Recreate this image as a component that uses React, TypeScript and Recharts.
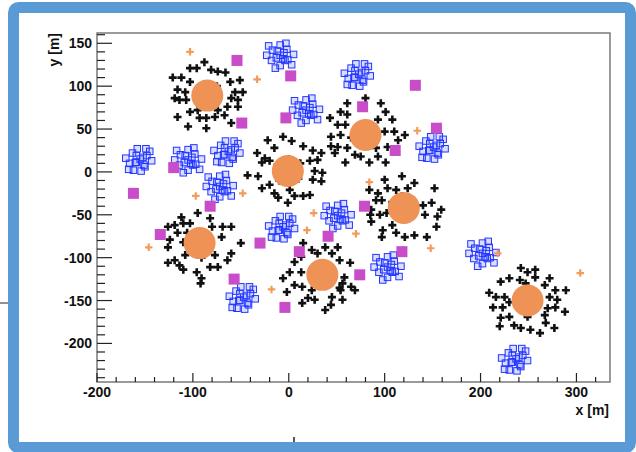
import React from "react";
import { ScatterChart, Scatter, XAxis, YAxis, ReferenceArea } from "recharts";

// ---------- data (metres) ----------
const X_TICKS = [-200, -180, -160, -140, -120, -100, -80, -60, -40, -20, 0, 20, 40, 60, 80, 100, 120, 140, 160, 180, 200, 220, 240, 260, 280, 300, 320];
const Y_TICKS = [-240, -230, -220, -210, -200, -190, -180, -170, -160, -150, -140, -130, -120, -110, -100, -90, -80, -70, -60, -50, -40, -30, -20, -10, 0, 10, 20, 30, 40, 50, 60, 70, 80, 90, 100, 110, 120, 130, 140, 150, 160];

const CLUSTER_CENTERS: [number, number][] = [
  [-85, 89], [80, 43], [-1, 1], [120, -42], [-93, -83], [35, -120], [249, -150],
];

const BLACK_1: [number, number][] = [[-88,128],[-96,121],[-103,121],[-81,119],[-74,117],[-66,116],[-121,110],[-112,110],[-103,105],[-51,107],[-61,105],[-116,96],[-108,93],[-56,93],[-48,93],[-119,86],[-114,84],[-107,84],[-60,86],[-53,84],[-64,76],[-53,76],[-116,64],[-103,70],[-95,72],[-74,72],[-67,66],[-93,63],[-86,63],[-77,64],[-105,53],[-86,51],[-60,57],[-95,95],[-75,100],[-90,80],[-78,82]];
const BLACK_2: [number, number][] = [[80,86],[61,80],[96,80],[101,70],[54,70],[61,67],[43,63],[51,55],[59,55],[93,61],[108,61],[44,41],[54,43],[100,47],[110,47],[121,43],[114,37],[51,29],[61,28],[69,20],[75,18],[84,11],[93,18],[101,11],[59,11],[91,28],[103,29],[70,50],[88,48],[75,35],[90,38],[65,40],[48,22],[44,30]];
const BLACK_3: [number, number][] = [[-22,37],[-6,41],[3,36],[15,30],[-15,28],[-33,22],[-25,16],[25,25],[34,22],[-28,11],[-20,13],[22,13],[30,14],[-43,-4],[-32,-5],[27,1],[35,-1],[25,-9],[34,-11],[-28,-19],[-20,-15],[-15,-25],[-11,-30],[1,-21],[6,-28],[15,-28],[22,-27],[-1,-36],[-12,8],[12,10],[-10,-10],[10,-8],[0,15]];
const BLACK_4: [number, number][] = [[100,-9],[118,-5],[131,-13],[152,-19],[84,-21],[93,-25],[103,-19],[112,-21],[124,-19],[97,-33],[86,-44],[95,-50],[86,-58],[102,-48],[140,-39],[149,-36],[159,-44],[142,-50],[154,-64],[98,-68],[97,-76],[108,-62],[112,-71],[121,-76],[131,-74],[144,-76],[155,-52],[91,-33],[85,-50],[108,-35],[127,-36],[110,-50],[128,-50],[118,-28]];
const BLACK_5: [number, number][] = [[-112,-53],[-95,-48],[-82,-54],[-119,-62],[-110,-60],[-103,-60],[-126,-64],[-116,-71],[-106,-71],[-124,-79],[-126,-88],[-110,-82],[-108,-97],[-119,-103],[-126,-106],[-114,-109],[-110,-114],[-98,-95],[-91,-100],[-96,-117],[-91,-124],[-82,-111],[-74,-111],[-77,-97],[-70,-76],[-69,-64],[-80,-64],[-60,-64],[-50,-83],[-60,-95],[-64,-103],[-92,-130],[-100,-78],[-84,-78],[-95,-90],[-85,-88]];
const BLACK_6: [number, number][] = [[15,-83],[24,-91],[6,-105],[1,-117],[-6,-124],[-2,-140],[14,-153],[20,-147],[27,-149],[38,-161],[45,-146],[53,-135],[56,-130],[51,-88],[45,-95],[53,-103],[64,-106],[58,-123],[38,-88],[30,-95],[14,-134],[24,-138],[6,-132],[69,-138],[65,-134],[54,-138],[56,-149],[44,-155],[13,-117],[13,-99],[25,-115],[42,-112],[28,-128],[40,-128]];
const BLACK_7: [number, number][] = [[242,-112],[249,-117],[257,-114],[257,-123],[230,-124],[221,-128],[241,-126],[247,-130],[272,-124],[267,-132],[289,-138],[278,-138],[209,-141],[216,-146],[225,-146],[230,-152],[213,-158],[223,-158],[272,-146],[280,-149],[278,-158],[288,-163],[270,-159],[267,-167],[221,-170],[230,-169],[235,-179],[220,-180],[242,-182],[249,-169],[252,-184],[268,-176],[277,-182],[262,-188],[240,-142],[258,-142],[243,-158],[256,-156]];

const BLUE_SQUARES: [number, number][] = [
  [-9,136],[-17,142],[-2,143],[-18,130],[-1,131],[-9,148],[-9,124],[-23,136],[5,137],[-14,121],[-3,150],[-21,147],[3,125],[-6,132],
  [73,114],[65,121],[80,118],[62,109],[78,105],[70,126],[74,100],[58,115],[85,112],[66,101],[79,126],[61,102],[83,123],[69,110],
  [18,72],[10,78],[25,79],[9,66],[26,67],[18,84],[18,60],[4,72],[32,73],[13,57],[24,86],[6,83],[30,61],[21,68],
  [-155,15],[-163,22],[-148,19],[-166,10],[-150,6],[-158,27],[-154,1],[-170,16],[-143,13],[-162,2],[-149,27],[-167,3],[-145,24],[-159,11],
  [-105,14],[-113,20],[-98,21],[-114,8],[-97,9],[-105,26],[-105,2],[-119,14],[-91,15],[-110,-1],[-99,28],[-117,25],[-93,3],[-102,10],
  [-63,24],[-71,31],[-56,28],[-74,19],[-58,15],[-66,36],[-62,10],[-78,25],[-51,22],[-70,11],[-57,36],[-75,12],[-53,33],[-67,20],
  [-72,-17],[-80,-11],[-65,-10],[-81,-23],[-64,-22],[-72,-5],[-72,-29],[-86,-17],[-58,-16],[-77,-32],[-66,-3],[-84,-6],[-60,-28],[-69,-21],
  [151,29],[143,36],[158,33],[140,24],[156,20],[148,41],[152,15],[136,30],[163,27],[144,16],[157,41],[139,17],[161,38],[147,25],
  [51,-51],[43,-45],[58,-44],[42,-57],[59,-56],[51,-39],[51,-63],[37,-51],[65,-50],[46,-66],[57,-37],[39,-40],[63,-62],[54,-55],
  [-6,-64],[-14,-57],[1,-60],[-17,-69],[-1,-73],[-9,-52],[-5,-78],[-21,-63],[6,-66],[-13,-77],[0,-52],[-18,-76],[4,-55],[-10,-68],
  [103,-111],[95,-105],[110,-104],[94,-117],[111,-116],[103,-99],[103,-123],[89,-111],[117,-110],[98,-126],[109,-97],[91,-100],[115,-122],[106,-115],
  [-47,-146],[-55,-139],[-40,-142],[-58,-151],[-42,-155],[-50,-134],[-46,-160],[-62,-145],[-35,-148],[-54,-159],[-41,-134],[-59,-158],[-37,-137],[-51,-150],
  [202,-95],[194,-89],[209,-88],[193,-101],[210,-100],[202,-83],[202,-107],[188,-95],[216,-94],[197,-110],[208,-81],[190,-84],[214,-106],[205,-99],
  [237,-218],[229,-211],[244,-214],[226,-223],[242,-227],[234,-206],[238,-232],[222,-217],[249,-220],[230,-231],[243,-206],[225,-230],[247,-209],[233,-222],
];

const BLUE_INNER: [number, number][] = [
  [-13,133],[-5,139],[-12,141],[-4,130],
  [68,110],[76,116],[69,118],[77,107],
  [14,69],[22,75],[15,77],[23,66],
  [-160,11],[-152,17],[-159,19],[-151,8],
  [-109,11],[-101,17],[-108,19],[-100,8],
  [-68,20],[-60,26],[-67,28],[-59,17],
  [-76,-20],[-68,-14],[-75,-12],[-67,-23],
  [146,25],[154,31],[147,33],[155,22],
  [47,-54],[55,-48],[48,-46],[56,-57],
  [-11,-68],[-3,-62],[-10,-60],[-2,-71],
  [99,-114],[107,-108],[100,-106],[108,-117],
  [-52,-150],[-44,-144],[-51,-142],[-43,-153],
  [198,-98],[206,-92],[199,-90],[207,-101],
  [232,-222],[240,-216],[233,-214],[241,-225],
];

const MAGENTA: [number, number][] = [[-54,130],[2,112],[-49,57],[-3,63],[-120,5],[-162,-25],[-82,-40],[132,101],[77,76],[154,51],[111,25],[79,-40],[-134,-73],[-30,-83],[11,-93],[-57,-125],[-4,-158],[41,-75],[118,-93],[74,-120]];

const ORANGE_PLUS: [number, number][] = [[-103,140],[-33,108],[-97,-28],[-48,-25],[26,-48],[134,48],[84,-12],[-146,-88],[19,-68],[-18,-137],[70,-72],[148,-89],[218,-95],[304,-118]];

const toPts = (a: [number, number][]) => a.map(([x, y]) => ({ x, y }));
const blackPts = toPts([...BLACK_1, ...BLACK_2, ...BLACK_3, ...BLACK_4, ...BLACK_5, ...BLACK_6, ...BLACK_7]);
const bluePts = toPts([...BLUE_SQUARES, ...BLUE_INNER]);

const FONT = "'Liberation Sans', Arial, Helvetica, sans-serif";

const YTick = (props: any) => {
  const { x, y, payload } = props;
  const v = payload.value;
  const major = v % 50 === 0;
  return (
    <g>
      <line x1={x} x2={x + (major ? 15 : 8)} y1={y} y2={y} stroke="#222" strokeWidth={1.2} />
      {major && (
        <text x={x - 5} y={y} dy={5} textAnchor="end" fontSize={14} fontWeight="bold" fontFamily={FONT} fill="#111">
          {v}
        </text>
      )}
    </g>
  );
};

const XTick = (props: any) => {
  const { x, y, payload } = props;
  const v = payload.value;
  const major = v % 100 === 0;
  return (
    <g>
      <line x1={x} x2={x} y1={y} y2={y - (major ? 9 : 5)} stroke="#222" strokeWidth={1.2} />
      {major && (
        <text x={x} y={y + 15} textAnchor="middle" fontSize={14} fontWeight="bold" fontFamily={FONT} fill="#111">
          {v}
        </text>
      )}
    </g>
  );
};

const plusPath = (cx: number, cy: number, s: number, t: number) =>
  `M${cx - t / 2},${cy - s / 2}h${t}v${s / 2 - t / 2}h${s / 2 - t / 2}v${t}h${-(s / 2 - t / 2)}v${s / 2 - t / 2}h${-t}v${-(s / 2 - t / 2)}h${-(s / 2 - t / 2)}v${-t}h${s / 2 - t / 2}z`;

const BlackPlus = (p: any) => <path d={plusPath(p.cx, p.cy, 8, 2.6)} fill="#111" />;
const OrangePlus = (p: any) => <path d={plusPath(p.cx, p.cy, 7.5, 2.2)} fill="#F29B5E" />;
const BigOrange = (p: any) => <circle cx={p.cx} cy={p.cy} r={16} fill="#EE9256" />;
const BlueSquare = (p: any) => (
  <rect x={p.cx - 3.25} y={p.cy - 3.25} width={6.5} height={6.5} fill="rgba(30,50,255,0.16)" stroke="#2236ff" strokeWidth={1} />
);
const MagentaSquare = (p: any) => <rect x={p.cx - 5.5} y={p.cy - 5.5} width={11} height={11} fill="#C94CC9" />;

export default function App() {
  return (
    <div style={{ position: "fixed", left: 0, top: 0, width: 636, height: 452, background: "#fff", overflow: "hidden" }}>
      <div style={{ position: "absolute", left: 0, top: 0 }}>
        <ScatterChart width={636} height={452} margin={{ top: 33, right: 26, bottom: 40, left: 37 }}>
          <XAxis
            type="number"
            dataKey="x"
            domain={[-200, 335]}
            ticks={X_TICKS}
            interval={0}
            height={30}
            tick={XTick}
            tickLine={false}
            axisLine={false}
            tickSize={0}
            tickMargin={0}
            allowDataOverflow
          />
          <YAxis
            type="number"
            dataKey="y"
            domain={[-245, 162]}
            ticks={Y_TICKS}
            interval={0}
            width={60}
            tick={YTick}
            tickLine={false}
            axisLine={false}
            tickSize={0}
            tickMargin={0}
            allowDataOverflow
          />
          <ReferenceArea x1={-200} x2={335} y1={-245} y2={162} fill="none" stroke="#7a7a7a" strokeWidth={1.5} fillOpacity={0} />
          <Scatter data={blackPts} shape={BlackPlus} isAnimationActive={false} />
          <Scatter data={toPts(CLUSTER_CENTERS)} shape={BigOrange} isAnimationActive={false} />
          <Scatter data={bluePts} shape={BlueSquare} isAnimationActive={false} />
          <Scatter data={toPts(MAGENTA)} shape={MagentaSquare} isAnimationActive={false} />
          <Scatter data={toPts(ORANGE_PLUS)} shape={OrangePlus} isAnimationActive={false} />
        </ScatterChart>
      </div>
      <svg width={636} height={452} style={{ position: "absolute", left: 0, top: 0, pointerEvents: "none" }}>
        <text x={59} y={33} transform="rotate(-90 59 33)" textAnchor="end" fontSize={14} fontWeight="bold" fontFamily={FONT} fill="#111">
          y [m]
        </text>
        <text x={609} y={415} textAnchor="end" fontSize={14} fontWeight="bold" fontFamily={FONT} fill="#111">
          x [m]
        </text>
        <rect x={13.5} y={7.5} width={617} height={440} rx={5} fill="none" stroke="#5B9BD5" strokeWidth={11} />
        <line x1={0} x2={8} y1={303} y2={303} stroke="#222" strokeWidth={1} />
        <line x1={294} x2={294} y1={437} y2={442} stroke="#222" strokeWidth={1.5} />
      </svg>
    </div>
  );
}
